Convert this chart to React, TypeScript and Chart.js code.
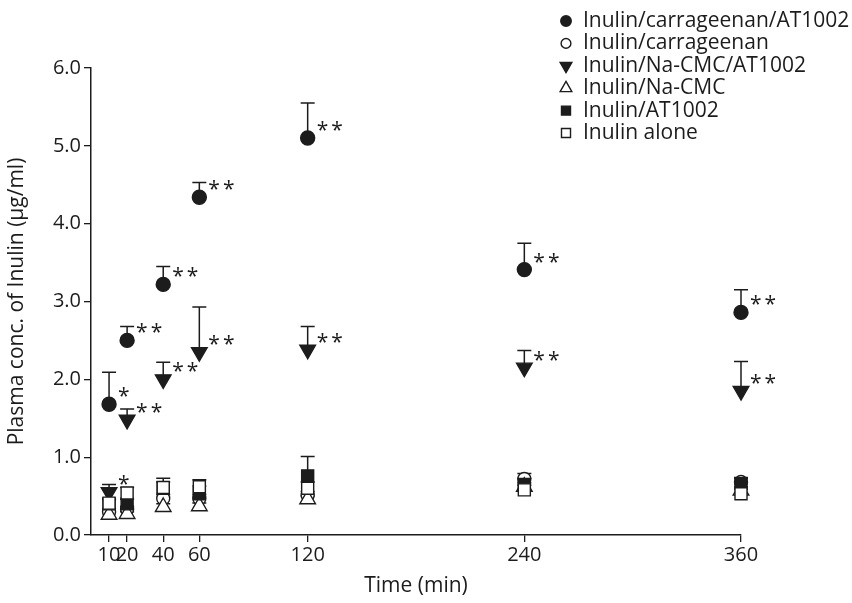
import React, { useEffect, useRef } from 'react';
import { Chart, registerables } from 'chart.js';

Chart.register(...registerables);

const times = [10, 20, 40, 60, 120, 240, 360];
const xTickValues = [10, 20, 40, 60, 120, 240, 360];
const yTickValues = [0, 1, 2, 3, 4, 5, 6];

const seriesNames = [
  'Inulin/carrageenan/AT1002',
  'Inulin/carrageenan',
  'Inulin/Na-CMC/AT1002',
  'Inulin/Na-CMC',
  'Inulin/AT1002',
  'Inulin alone',
];

const carrAT = [1.68, 2.5, 3.22, 4.34, 5.1, 3.41, 2.86];
const carrATSD = [0.41, 0.18, 0.23, 0.19, 0.45, 0.34, 0.29];
const carrATSig = ['*', '**', '**', '**', '**', '**', '**'];

const carr = [0.3, 0.33, 0.47, 0.47, 0.51, 0.72, 0.68];
const carrSD = [0.04, 0.04, 0.05, 0.05, 0.05, 0.07, 0.05];

const cmcAT = [0.55, 1.48, 2.0, 2.35, 2.38, 2.15, 1.85];
const cmcATSD = [0.1, 0.14, 0.22, 0.58, 0.3, 0.22, 0.38];
const cmcATSig = ['*', '**', '**', '**', '**', '**', '**'];

const cmc = [0.26, 0.27, 0.36, 0.37, 0.46, 0.62, 0.57];
const cmcSD = [0.03, 0.03, 0.04, 0.04, 0.04, 0.05, 0.05];

const inulinAT = [0.4, 0.4, 0.6, 0.53, 0.76, 0.65, 0.66];
const inulinATSD = [0.05, 0.06, 0.08, 0.1, 0.25, 0.08, 0.08];

const inulinAlone = [0.41, 0.54, 0.61, 0.62, 0.6, 0.58, 0.53];
const inulinAloneSD = [0.06, 0.07, 0.12, 0.09, 0.08, 0.06, 0.06];

const INK = '#1c1c1c';
const FONT = "'Open Sans', 'DejaVu Sans', sans-serif";
const TICK_FS = 20;
const LABEL_FS = 21;

type Style = { shape: string; fill: boolean; r: number; rot: number };
const styles: Style[] = [
  { shape: 'circle', fill: true, r: 7, rot: 0 },
  { shape: 'circle', fill: false, r: 6.5, rot: 0 },
  { shape: 'triangle', fill: true, r: 9, rot: 180 },
  { shape: 'triangle', fill: false, r: 9, rot: 0 },
  { shape: 'rect', fill: true, r: 8.5, rot: 0 },
  { shape: 'rect', fill: false, r: 8.5, rot: 0 },
];
const means = [carrAT, carr, cmcAT, cmc, inulinAT, inulinAlone];
const sds = [carrATSD, carrSD, cmcATSD, cmcSD, inulinATSD, inulinAloneSD];
const sigs: (string[] | null)[] = [carrATSig, null, cmcATSig, null, null, null];

function drawSymbol(ctx: CanvasRenderingContext2D, s: Style, x: number, y: number, scale: number) {
  const r = s.r * scale;
  ctx.save();
  ctx.beginPath();
  if (s.shape === 'circle') {
    ctx.arc(x, y, r, 0, Math.PI * 2);
  } else if (s.shape === 'rect') {
    const h = r * Math.SQRT1_2;
    ctx.rect(x - h, y - h, 2 * h, 2 * h);
  } else {
    const dir = s.rot === 180 ? -1 : 1;
    ctx.moveTo(x, y - dir * r);
    ctx.lineTo(x + r * 0.866, y + dir * r * 0.5);
    ctx.lineTo(x - r * 0.866, y + dir * r * 0.5);
    ctx.closePath();
  }
  ctx.fillStyle = s.fill ? INK : '#ffffff';
  ctx.fill();
  ctx.lineWidth = 1.4;
  ctx.strokeStyle = INK;
  ctx.stroke();
  ctx.restore();
}

const errorBarPlugin = {
  id: 'errorBars',
  beforeDatasetsDraw(chart: any) {
    const ctx = chart.ctx;
    const xs = chart.scales.x;
    const ys = chart.scales.y;
    ctx.save();
    ctx.strokeStyle = INK;
    ctx.lineWidth = 1.5;
    means.forEach((arr, si) => {
      arr.forEach((m, i) => {
        const px = xs.getPixelForValue(times[i]);
        const py = ys.getPixelForValue(m);
        const pt = ys.getPixelForValue(m + sds[si][i]);
        ctx.beginPath();
        ctx.moveTo(px, py);
        ctx.lineTo(px, pt);
        ctx.moveTo(px - 7, pt);
        ctx.lineTo(px + 7, pt);
        ctx.stroke();
      });
    });
    ctx.restore();
  },
  afterDatasetsDraw(chart: any) {
    const ctx = chart.ctx;
    const xs = chart.scales.x;
    const ys = chart.scales.y;
    ctx.save();
    ctx.fillStyle = INK;
    ctx.font = `${LABEL_FS}px ${FONT}`;
    ctx.textAlign = 'left';
    ctx.textBaseline = 'middle';
    try {
      (ctx as any).letterSpacing = '3px';
    } catch (e) {}
    sigs.forEach((sg, si) => {
      if (!sg) return;
      sg.forEach((t, i) => {
        const px = xs.getPixelForValue(times[i]);
        const py = ys.getPixelForValue(means[si][i]);
        ctx.fillText(t, px + 9, py - 7);
      });
    });
    ctx.restore();
  },
  afterDraw(chart: any) {
    const ctx = chart.ctx;
    ctx.save();
    ctx.fillStyle = INK;
    ctx.font = `${LABEL_FS}px ${FONT}`;
    ctx.textAlign = 'left';
    ctx.textBaseline = 'middle';
    seriesNames.forEach((n, i) => {
      const y = 21 + i * 22.4;
      drawSymbol(ctx, styles[i], 566, y, 0.75);
      ctx.fillStyle = INK;
      ctx.fillText(n, 583, y);
    });
    ctx.restore();
  },
};

export default function App() {
  const ref = useRef<HTMLCanvasElement>(null);
  useEffect(() => {
    if (!ref.current) return;
    const datasets = seriesNames.map((name, si) => ({
      label: name,
      data: means[si].map((v, i) => ({ x: times[i], y: v })),
      pointStyle: styles[si].shape,
      pointRadius: styles[si].r,
      pointRotation: styles[si].rot,
      pointBackgroundColor: styles[si].fill ? INK : '#ffffff',
      pointBorderColor: INK,
      pointBorderWidth: 1.4,
      showLine: false,
      clip: false,
      order: seriesNames.length - 1 - si,
    }));
    const chart = new Chart(ref.current, {
      type: 'scatter',
      data: { datasets },
      plugins: [errorBarPlugin],
      options: {
        responsive: false,
        animation: false,
        devicePixelRatio: 1,
        layout: { padding: { top: 68, right: 111, left: 0, bottom: 0 } },
        plugins: { legend: { display: false }, tooltip: { enabled: false } },
        scales: {
          x: {
            type: 'linear',
            min: 0,
            max: 360,
            afterBuildTicks: (s: any) => {
              s.ticks = xTickValues.map((v) => ({ value: v }));
            },
            afterFit: (s: any) => {
              s.height = 68;
            },
            ticks: {
              autoSkip: false,
              maxRotation: 0,
              color: INK,
              padding: 1,
              font: { family: FONT, size: TICK_FS },
              callback: (v: any) => String(v),
            },
            grid: { drawOnChartArea: false, drawTicks: true, tickLength: 7, color: INK, lineWidth: 1.3 },
            border: { display: true, color: INK, width: 1.5 },
            title: {
              display: true,
              text: 'Time (min)',
              color: INK,
              font: { family: FONT, size: LABEL_FS },
              padding: { top: 0, bottom: 4 },
            },
          },
          y: {
            type: 'linear',
            min: 0,
            max: 6,
            afterBuildTicks: (s: any) => {
              s.ticks = yTickValues.map((v) => ({ value: v }));
            },
            afterFit: (s: any) => {
              s.width = 91;
            },
            ticks: {
              color: INK,
              padding: 3,
              font: { family: FONT, size: TICK_FS },
              callback: (v: any) => Number(v).toFixed(1),
            },
            grid: { drawOnChartArea: false, drawTicks: true, tickLength: 7, color: INK, lineWidth: 1.3 },
            border: { display: true, color: INK, width: 1.5 },
            title: {
              display: true,
              text: 'Plasma conc. of Inulin (µg/ml)',
              color: INK,
              font: { family: FONT, size: LABEL_FS },
              padding: { top: 4, bottom: 0 },
            },
          },
        },
      },
    });
    return () => chart.destroy();
  }, []);
  return (
    <div style={{ position: 'absolute', left: 0, top: 0, width: 852, height: 603, background: '#fff' }}>
      <canvas ref={ref} width={852} height={603} style={{ display: 'block' }} />
    </div>
  );
}
